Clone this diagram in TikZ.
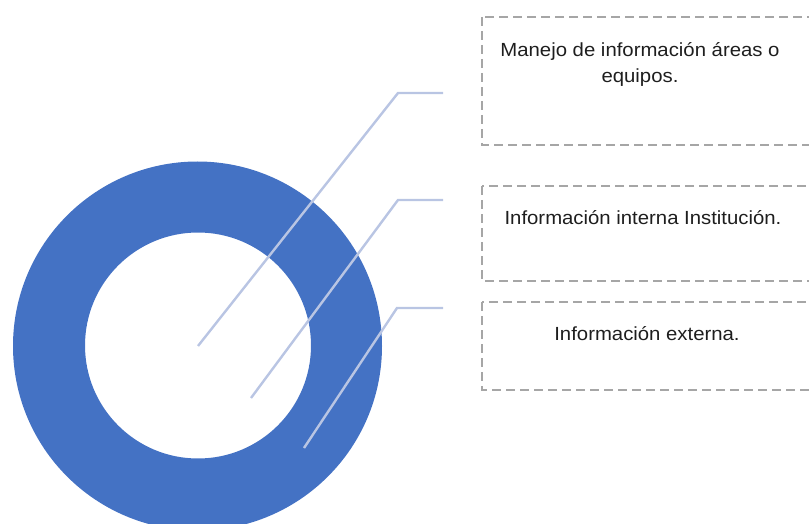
\documentclass[tikz,border=0pt]{standalone}
\usepackage{fontspec}
\setmainfont[FakeStretch=1.07]{Liberation Sans}
\definecolor{ringblue}{HTML}{4472C4}
\definecolor{leadline}{HTML}{B9C5E3}
\definecolor{boxgray}{HTML}{A6A6A6}
\definecolor{txtgray}{HTML}{1E1E1E}
\begin{document}
\begin{tikzpicture}[x=1pt,y=-1pt,
  dashbox/.style={draw=boxgray,line width=1.8pt,dash pattern=on 9pt off 5pt},
  leader/.style={draw=leadline,line width=2.4pt},
  lbl/.style={text=txtgray,font=\fontsize{19}{26}\selectfont,align=center,inner sep=0pt,anchor=base}]
\useasboundingbox (0,0) rectangle (809,524);
% donut
\fill[ringblue,even odd rule] (197.5,346) circle (184.5) (198,345.5) circle (113);
% boxes
\draw[dashbox] (482,17) rectangle (815,145);
\draw[dashbox] (482,186) rectangle (815,281);
\draw[dashbox] (482,302) rectangle (815,390);
% labels
\node[lbl] (t1) at (640,83) {Manejo de información áreas o\\equipos.};
\node[lbl] (t2) at (643,225) {Información interna Institución.};
\node[lbl] (t3) at (647,340) {Información externa.};
% leader coordinates
\coordinate (s1) at (198,346); \coordinate (k1) at (398,93); \coordinate (e1) at (443,93);
\coordinate (s2) at (251,398); \coordinate (k2) at (398,200); \coordinate (e2) at (443,200);
\coordinate (s3) at (304,448); \coordinate (k3) at (397,308); \coordinate (e3) at (443,308);
\draw[leader] (s1) -- (k1) -- (e1);
\draw[leader] (s2) -- (k2) -- (e2);
\draw[leader] (s3) -- (k3) -- (e3);
\end{tikzpicture}
\end{document}
